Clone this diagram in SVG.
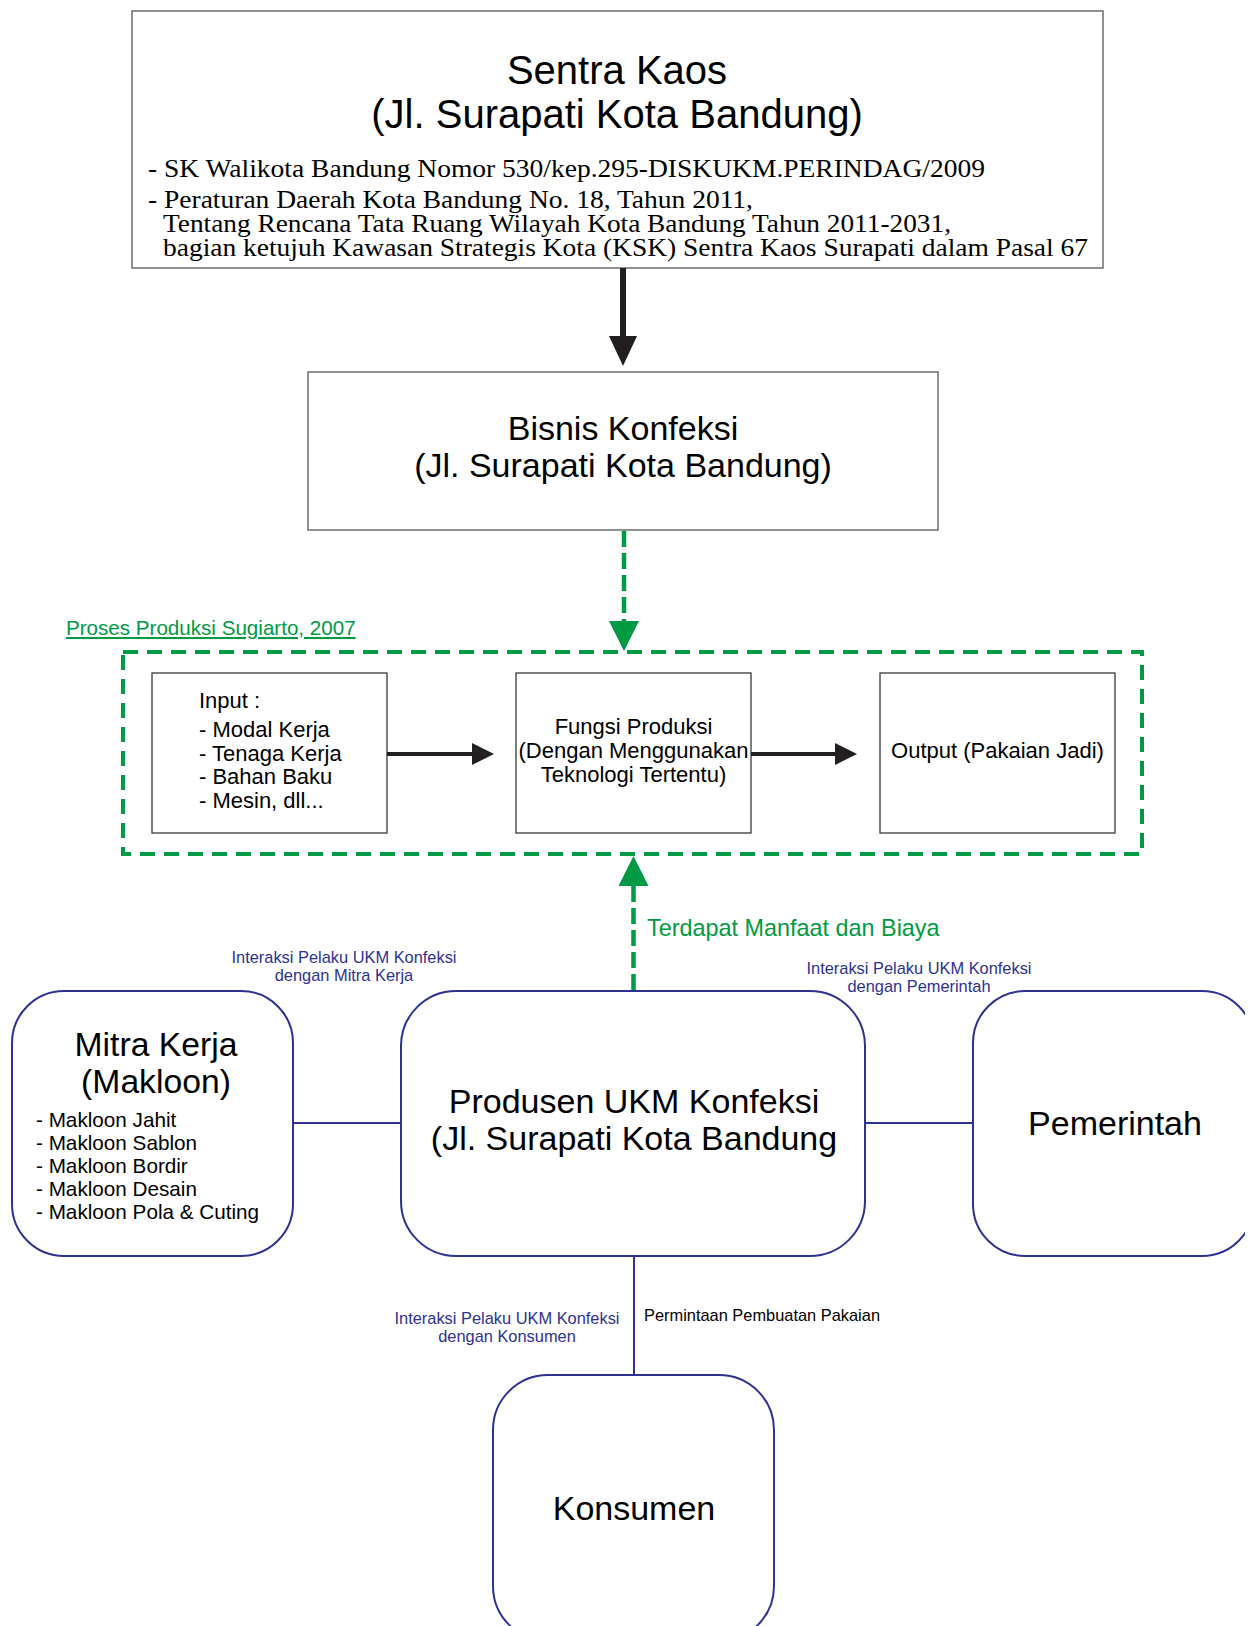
<svg xmlns="http://www.w3.org/2000/svg" width="1253" height="1626" viewBox="0 0 1253 1626">
<style>
.sans{font-family:"Liberation Sans",Arial,sans-serif}
.serif{font-family:"Liberation Serif","Times New Roman",serif;font-size:25px;fill:#000}
.box{fill:#fff;stroke:#6d6e71;stroke-width:1.5}
.ibox{fill:#fff;stroke:#3a3a3a;stroke-width:1.3}
.rbox{fill:#fff;stroke:#2E3192;stroke-width:2}
.big{font-size:34px;fill:#000}
.inner{font-size:22px;fill:#000}
.lbl{font-size:16.4px;fill:#2E3192}
.nav{stroke:#2E3192;stroke-width:2;fill:none}
.blk{stroke:#231F20;fill:none}
.grn{stroke:#009A44;stroke-width:4.5;fill:none;stroke-dasharray:16 6}
</style>
<defs>
<marker id="ahBig" markerUnits="userSpaceOnUse" viewBox="0 0 30 28" markerWidth="30" markerHeight="28" refX="1" refY="14" orient="auto"><path d="M0,0 L30,14 L0,28 z" fill="#231F20"/></marker>
<marker id="ahSm" markerUnits="userSpaceOnUse" viewBox="0 0 22 22" markerWidth="22" markerHeight="22" refX="1" refY="11" orient="auto"><path d="M0,0 L22,11 L0,22 z" fill="#231F20"/></marker>
<marker id="ahGrn" markerUnits="userSpaceOnUse" viewBox="0 0 30 30" markerWidth="30" markerHeight="30" refX="1" refY="15" orient="auto"><path d="M0,0 L30,15 L0,30 z" fill="#009A44"/></marker>
<clipPath id="pageClip"><rect x="0" y="0" width="1245" height="1626"/></clipPath>
</defs>
<rect x="0" y="0" width="1253" height="1626" fill="#fff"/>

<g id="sentra-kaos">
<rect class="box" x="132" y="11" width="971" height="257"/>
<text class="sans" x="617" y="84" font-size="40" text-anchor="middle">Sentra Kaos</text>
<text class="sans" x="617" y="128" font-size="40" text-anchor="middle">(Jl. Surapati Kota Bandung)</text>
<text class="serif" x="148" y="177" textLength="837" lengthAdjust="spacingAndGlyphs">- SK Walikota Bandung Nomor 530/kep.295-DISKUKM.PERINDAG/2009</text>
<text class="serif" x="148" y="208" textLength="605" lengthAdjust="spacingAndGlyphs">- Peraturan Daerah Kota Bandung No. 18, Tahun 2011,</text>
<text class="serif" x="163" y="232" textLength="788" lengthAdjust="spacingAndGlyphs">Tentang Rencana Tata Ruang Wilayah Kota Bandung Tahun 2011-2031,</text>
<text class="serif" x="163" y="256" textLength="925" lengthAdjust="spacingAndGlyphs">bagian ketujuh Kawasan Strategis Kota (KSK) Sentra Kaos Surapati dalam Pasal 67</text>
</g>

<g id="bisnis-konfeksi">
<rect class="box" x="308" y="372" width="630" height="158"/>
<text class="sans big" x="623" y="440" text-anchor="middle">Bisnis Konfeksi</text>
<text class="sans big" x="623" y="477" text-anchor="middle">(Jl. Surapati Kota Bandung)</text>
</g>

<g id="proses-produksi">
<rect x="123" y="652" width="1019" height="202" fill="none" stroke="#009A44" stroke-width="4" stroke-dasharray="15 9"/>
<text class="sans" x="66" y="635" font-size="20.6" fill="#009A44" text-decoration="underline">Proses Produksi Sugiarto, 2007</text>
</g>

<g id="input">
<rect class="ibox" x="152" y="673" width="235" height="160"/>
<text class="sans inner" x="199" y="708">Input :</text>
<text class="sans inner" x="199" y="737">- Modal Kerja</text>
<text class="sans inner" x="199" y="761">- Tenaga Kerja</text>
<text class="sans inner" x="199" y="784">- Bahan Baku</text>
<text class="sans inner" x="199" y="808">- Mesin, dll...</text>
</g>

<g id="fungsi-produksi">
<rect class="ibox" x="516" y="673" width="235" height="160"/>
<text class="sans inner" x="633.5" y="734" text-anchor="middle">Fungsi Produksi</text>
<text class="sans inner" x="633.5" y="758" text-anchor="middle">(Dengan Menggunakan</text>
<text class="sans inner" x="633.5" y="782" text-anchor="middle">Teknologi Tertentu)</text>
</g>

<g id="output">
<rect class="ibox" x="880" y="673" width="235" height="160"/>
<text class="sans inner" x="997.5" y="758" text-anchor="middle">Output (Pakaian Jadi)</text>
</g>

<g id="mitra-kerja">
<rect class="rbox" x="12" y="991" width="281" height="265" rx="52" ry="52"/>
<text class="sans" x="156" y="1056" font-size="33.7" text-anchor="middle">Mitra Kerja</text>
<text class="sans" x="156" y="1093" font-size="33.7" text-anchor="middle">(Makloon)</text>
<text class="sans" x="36" y="1127" font-size="20.7">- Makloon Jahit</text>
<text class="sans" x="36" y="1150" font-size="20.7">- Makloon Sablon</text>
<text class="sans" x="36" y="1173" font-size="20.7">- Makloon Bordir</text>
<text class="sans" x="36" y="1196" font-size="20.7">- Makloon Desain</text>
<text class="sans" x="36" y="1219" font-size="20.7">- Makloon Pola &amp; Cuting</text>
</g>

<g id="produsen">
<rect class="rbox" x="401" y="991" width="464" height="265" rx="55" ry="55"/>
<text class="sans big" x="634" y="1113" text-anchor="middle">Produsen UKM Konfeksi</text>
<text class="sans big" x="634" y="1150" text-anchor="middle">(Jl. Surapati Kota Bandung</text>
</g>

<g id="pemerintah" clip-path="url(#pageClip)">
<rect class="rbox" x="973" y="991" width="281" height="265" rx="52" ry="52"/>
<text class="sans big" x="1115" y="1135" text-anchor="middle">Pemerintah</text>
</g>

<g id="konsumen">
<rect class="rbox" x="493" y="1375" width="281" height="266" rx="55" ry="55"/>
<text class="sans big" x="634" y="1520" text-anchor="middle">Konsumen</text>
</g>

<g id="connectors">
<line class="blk" x1="623" y1="268" x2="623" y2="337" stroke-width="6" marker-end="url(#ahBig)"/>
<line class="grn" x1="624" y1="531" x2="624" y2="622" marker-end="url(#ahGrn)"/>
<line class="blk" x1="387" y1="754" x2="473" y2="754" stroke-width="4" marker-end="url(#ahSm)"/>
<line class="blk" x1="751" y1="754" x2="836" y2="754" stroke-width="4" marker-end="url(#ahSm)"/>
<line class="grn" x1="633.5" y1="990" x2="633.5" y2="885" marker-end="url(#ahGrn)"/>
<line class="nav" x1="293" y1="1123" x2="401" y2="1123"/>
<line class="nav" x1="865" y1="1123" x2="973" y2="1123"/>
<line class="nav" x1="634" y1="1256" x2="634" y2="1375"/>
<text class="sans" x="647" y="936" font-size="23.4" fill="#009A44">Terdapat Manfaat dan Biaya</text>
<text class="sans lbl" x="344" y="963" text-anchor="middle">Interaksi Pelaku UKM Konfeksi</text>
<text class="sans lbl" x="344" y="981" text-anchor="middle">dengan Mitra Kerja</text>
<text class="sans lbl" x="919" y="974" text-anchor="middle">Interaksi Pelaku UKM Konfeksi</text>
<text class="sans lbl" x="919" y="992" text-anchor="middle">dengan Pemerintah</text>
<text class="sans lbl" x="507" y="1324" text-anchor="middle">Interaksi Pelaku UKM Konfeksi</text>
<text class="sans lbl" x="507" y="1342" text-anchor="middle">dengan Konsumen</text>
<text class="sans" x="644" y="1321" font-size="16.4" fill="#000">Permintaan Pembuatan Pakaian</text>
</g>
</svg>
